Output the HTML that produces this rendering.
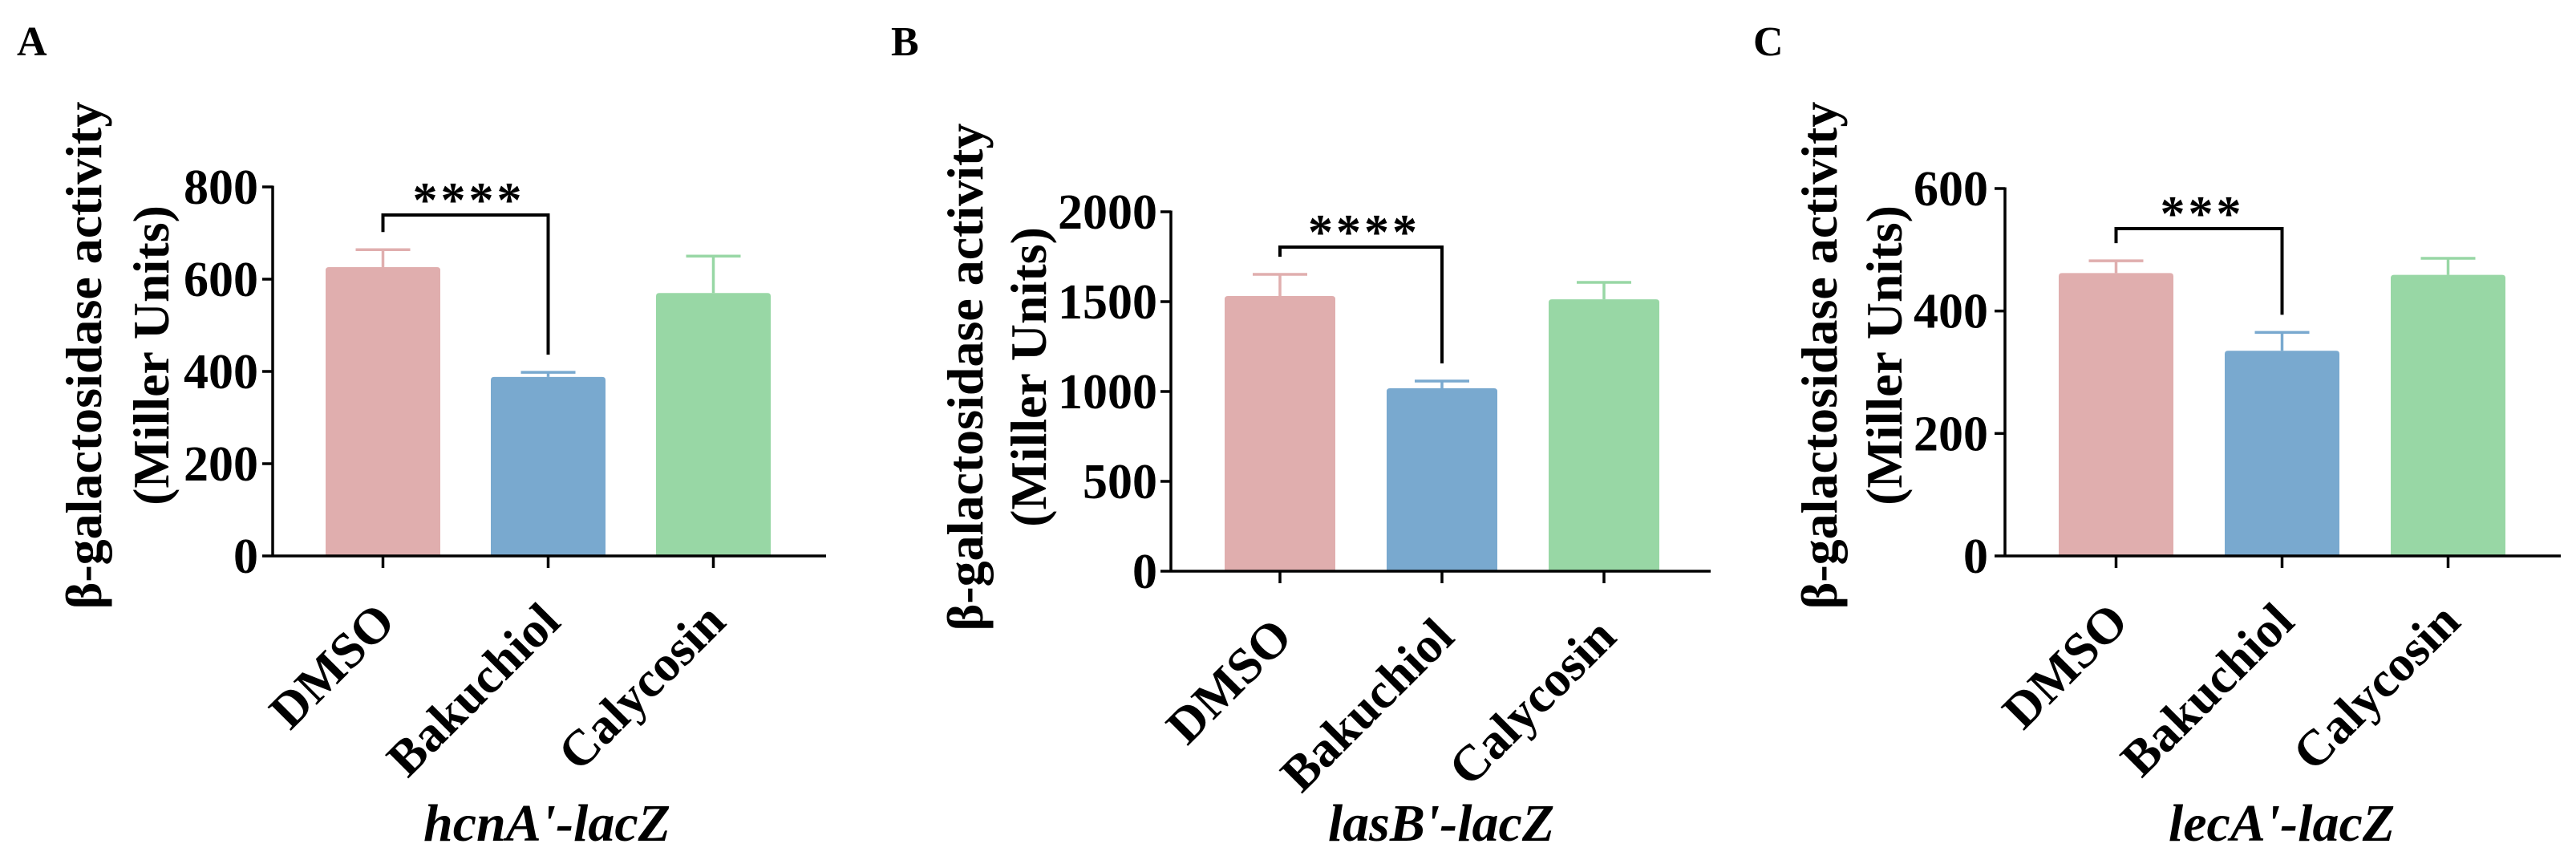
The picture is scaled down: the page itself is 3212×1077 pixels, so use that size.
<!DOCTYPE html>
<html>
<head>
<meta charset="utf-8">
<style>
  html, body { margin:0; padding:0; background:#ffffff; }
  svg { display:block; }
  svg text { font-family: "Liberation Serif", "DejaVu Serif", serif; font-weight:bold; fill:#000; }
</style>
</head>
<body>
<svg id="fig" width="3212" height="1077" viewBox="0 0 3212 1077" xmlns="http://www.w3.org/2000/svg" font-family="Liberation Serif, DejaVu Serif, serif">
  <rect x="0" y="0" width="3212" height="1077" fill="#ffffff"></rect>
</svg>
<script>
// ---- data ----
const categories = ["DMSO", "Bakuchiol", "Calycosin"];
const panelLetters = ["A", "B", "C"];
const panelTitles = ["hcnA'-lacZ", "lasB'-lacZ", "lecA'-lacZ"];
const valuesA = [626, 388, 570];
const errorsA = [664, 398, 650];
const valuesB = [1531, 1018, 1513];
const errorsB = [1652, 1058, 1607];
const valuesC = [462, 335, 459];
const errorsC = [482, 365, 486];
const ticksA = [0, 200, 400, 600, 800];
const ticksB = [0, 500, 1000, 1500, 2000];
const ticksC = [0, 200, 400, 600];
const starsA = "****";
const starsB = "****";
const starsC = "***";

// ---- layout (pixels, not data) ----
const colors = ["#e0aeae", "#79a9cf", "#98d7a5"];
const layouts = [
  {axisX:340, y0:693, yTop:233, xEnd:1030, firstBar:406, barW:143, pitch:206, ylab1:105, ylab2:189, ylabY:443, subX:682, letterX:21, tickLabR:322},
  {axisX:1460, y0:712, yTop:264, xEnd:2133, firstBar:1527, barW:138, pitch:202, ylab1:1204, ylab2:1283, ylabY:470, subX:1797, letterX:1111, tickLabR:1443},
  {axisX:2500, y0:693, yTop:235, xEnd:3193, firstBar:2567, barW:143, pitch:207, ylab1:2269, ylab2:2350, ylabY:443, subX:2845, letterX:2186, tickLabR:2479}
];
const bracketTops = [268, 308, 285];
const NS = "http://www.w3.org/2000/svg";
const svg = document.getElementById("fig");

function mk(tag, attrs, parent) {
  const el = document.createElementNS(NS, tag);
  for (const k in attrs) el.setAttribute(k, attrs[k]);
  (parent || svg).appendChild(el);
  return el;
}

function drawPanel(i, values, errors, ticks, stars) {
  const L = layouts[i];
  const maxT = ticks[ticks.length - 1];
  const yScale = v => L.y0 - (v / maxT) * (L.y0 - L.yTop);
  const xCenter = j => L.firstBar + j * L.pitch + L.barW / 2;

  const g = mk("g", {});
  
  

  const pl = mk("text", {x:L.letterX, y:69, "font-size":52, fill:"#231815"}, g);
  
  
  pl.textContent = panelLetters[i];

  values.forEach((v, j) => {
    const x = L.firstBar + j * L.pitch;
    const yt = yScale(v);
    const bar = mk("path", {
      d: `M${x},${L.y0} L${x},${yt+4} Q${x},${yt} ${x+4},${yt} L${x+L.barW-4},${yt} Q${x+L.barW},${yt} ${x+L.barW},${yt+4} L${x+L.barW},${L.y0} Z`,
      fill: colors[j]
    }, g);
    
    
    const cx = xCenter(j);
    const ye = yScale(errors[j]);
    const eb = mk("path", {d:`M${cx},${yt} L${cx},${ye} M${cx-34},${ye} L${cx+34},${ye}`, stroke:colors[j], "stroke-width":3.5, fill:"none"}, g);
    
    
  });

  const ya = mk("line", {x1:L.axisX, y1:L.yTop-1.5, x2:L.axisX, y2:L.y0+1.5, stroke:"#000", "stroke-width":3.5}, g);
  
  
  ticks.forEach(t => {
    const y = yScale(t);
    const tk = mk("line", {x1:L.axisX-13, y1:y, x2:L.axisX, y2:y, stroke:"#000", "stroke-width":3.5}, g);
    
    
    const tl = mk("text", {x:L.tickLabR, y:y+21, "font-size":62, "text-anchor":"end"}, g);
    
    
    tl.textContent = t;
  });

  const xa = mk("line", {x1:L.axisX, y1:L.y0, x2:L.xEnd, y2:L.y0, stroke:"#000", "stroke-width":3.5}, g);
  
  
  categories.forEach((c, j) => {
    const cx = xCenter(j);
    const tk = mk("line", {x1:cx, y1:L.y0, x2:cx, y2:L.y0+15, stroke:"#000", "stroke-width":3.5}, g);
    
    
    const ax = cx + 18, ay = L.y0 + 85;
    const tl = mk("text", {x:ax, y:ay, "font-size":63, "text-anchor":"end", transform:`rotate(-45 ${ax} ${ay})`}, g);
    
    
    tl.textContent = c;
  });

  const t1 = mk("text", {x:L.ylab1 + 21, y:L.ylabY, "font-size":64, "text-anchor":"middle", transform:`rotate(-90 ${L.ylab1 + 21} ${L.ylabY})`}, g);
  
  
  t1.textContent = "β-galactosidase activity";
  const t2 = mk("text", {x:L.ylab2 + 21, y:L.ylabY, "font-size":64, "text-anchor":"middle", transform:`rotate(-90 ${L.ylab2 + 21} ${L.ylabY})`}, g);
  
  
  t2.textContent = "(Miller Units)";

  const x0 = xCenter(0), x1 = xCenter(1);
  const top = bracketTops[i];
  const leftEnd = yScale(errors[0]) - 22;
  const rightEnd = yScale(errors[1]) - 22;
  const br = mk("path", {d:`M${x0},${leftEnd} L${x0},${top} L${x1},${top} L${x1},${rightEnd}`, stroke:"#000", "stroke-width":4, fill:"none"}, g);
  
  
  const st = mk("text", {x:(x0+x1)/2 + 4, y:top + 2, "font-size":62, "text-anchor":"middle", "letter-spacing":4}, g);
  
  
  st.textContent = stars;

  const sub = mk("text", {x:L.subX, y:1048, "font-size":66, "font-style":"italic", "text-anchor":"middle"}, g);
  
  
  sub.textContent = panelTitles[i];
}

drawPanel(0, valuesA, errorsA, ticksA, starsA);
drawPanel(1, valuesB, errorsB, ticksB, starsB);
drawPanel(2, valuesC, errorsC, ticksC, starsC);
</script>
</body>
</html>
